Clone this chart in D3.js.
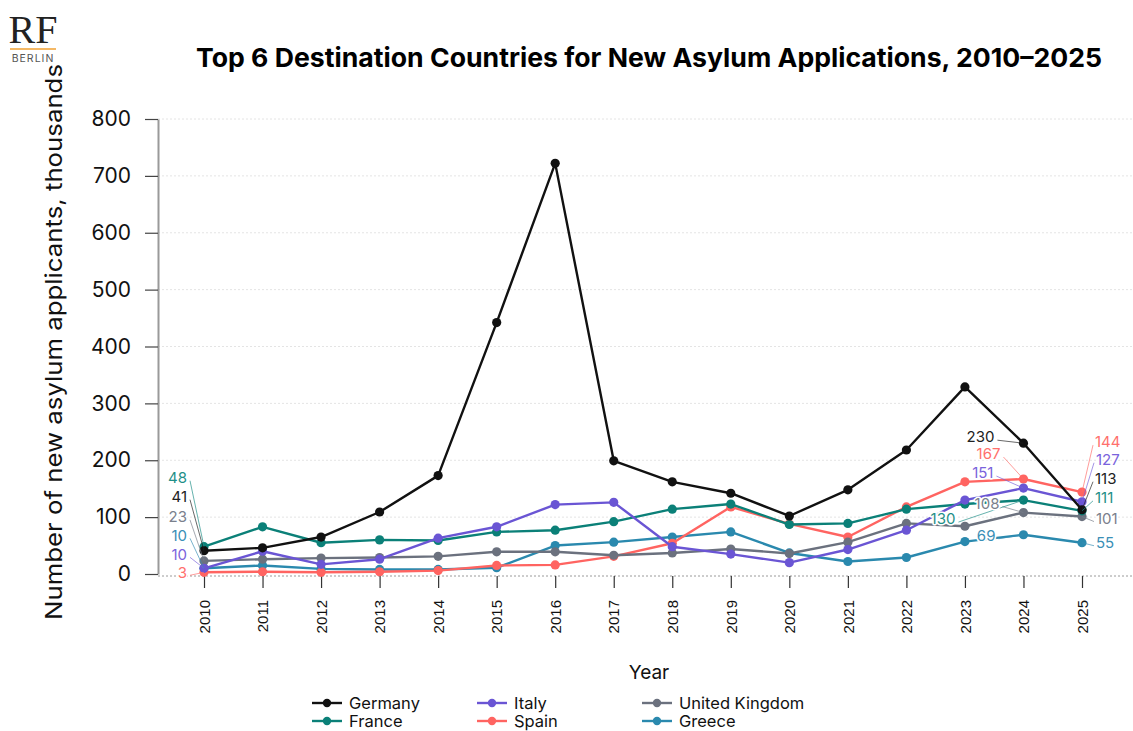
<!DOCTYPE html>
<html>
<head>
<meta charset="utf-8">
<script src="https://cdn.jsdelivr.net/npm/d3@7"></script>
<style>
  html, body { margin: 0; padding: 0; background: #fff; }
  svg { display: block; font-family: Inter, "Open Sans", sans-serif; }
</style>
</head>
<body>
<svg id="chart" width="1133" height="731"></svg>
<script>
// Asylum applications, thousands, by year
const years = [2010, 2011, 2012, 2013, 2014, 2015, 2016, 2017, 2018, 2019, 2020, 2021, 2022, 2023, 2024, 2025];
const countries = ["Germany", "Italy", "United Kingdom", "France", "Spain", "Greece"];
const germany = [41, 46, 65, 109, 173, 442, 722, 199, 162, 142, 102, 148, 218, 329, 230, 113];
const italy   = [10, 40, 17, 26, 63, 83, 122, 126, 48, 35, 20, 43, 77, 130, 151, 127];
const uk      = [23, 26, 28, 29, 31, 39, 39, 33, 37, 44, 36, 56, 89, 84, 108, 101];
const france  = [48, 83, 55, 60, 59, 74, 77, 92, 114, 123, 87, 89, 114, 123, 130, 111];
const spain   = [3, 4, 3, 4, 6, 15, 16, 31, 54, 118, 88, 65, 118, 162, 167, 144];
const greece  = [10, 15, 9, 8, 8, 11, 50, 56, 65, 74, 37, 22, 29, 57, 69, 55];
const yTicks = [0, 100, 200, 300, 400, 500, 600, 700, 800];

const colors = {
  "Germany": "#111111",
  "Italy": "#6a55d4",
  "United Kingdom": "#6b717e",
  "France": "#0b8078",
  "Spain": "#ff6461",
  "Greece": "#2a89ae"
};
const textColors = {
  "Germany": "#222222",
  "Italy": "#7a63dc",
  "United Kingdom": "#7a808c",
  "France": "#1f8f88",
  "Spain": "#ff6f6c",
  "Greece": "#3a8fb6"
};

const seriesValues = [germany, italy, uk, france, spain, greece];
const series = countries.map((c, i) => ({ name: c, values: seriesValues[i] }));

// Which points carry a value label, and the label's offset from its point
// (negative dx: label to the left, right-aligned; positive: to the right)
const labelYears = [2010, 2024, 2025];
const labelOffsets = {
  2010: { "France": [-17, -69], "Germany": [-17, -54], "United Kingdom": [-17, -44], "Greece": [-17, -33], "Italy": [-17, -14], "Spain": [-17, 0] },
  2024: { "Germany": [-29, -6], "Spain": [-23, -25], "Italy": [-30, -15], "United Kingdom": [-24, -9], "France": [-68, 19], "Greece": [-28, 1] },
  2025: { "Spain": [13, -50], "Italy": [14, -42], "Germany": [13, -31], "France": [13, -13], "United Kingdom": [14, 2], "Greece": [14, 0] }
};

const svg = d3.select("#chart");
const W = 1133;
const plotLeft = 158;

const x = d3.scalePoint().domain(years).range([204, 1082]);
const y = d3.scaleLinear().domain([0, 800]).range([574, 119]);

// Horizontal gridlines
svg.append("g")
  .selectAll("line")
  .data(yTicks.slice(1))
  .join("line")
  .attr("x1", plotLeft).attr("x2", W)
  .attr("y1", d => y(d)).attr("y2", d => y(d))
  .attr("stroke", "#e4e4e4")
  .attr("stroke-width", 1)
  .attr("stroke-dasharray", "2,2");

// Baseline
svg.append("line")
  .attr("x1", plotLeft).attr("x2", W)
  .attr("y1", y(0) + 2).attr("y2", y(0) + 2)
  .attr("stroke", "#9a9a9a")
  .attr("stroke-width", 1)
  .attr("stroke-dasharray", "2,2");

// Y axis
const yAxis = svg.append("g")
  .attr("transform", `translate(${plotLeft},0)`)
  .call(d3.axisLeft(y).tickValues(yTicks).tickSize(13).tickPadding(14).tickSizeOuter(0));
yAxis.select(".domain").attr("stroke", "#9a9a9a").attr("stroke-width", 2);
yAxis.selectAll(".tick line").attr("stroke", "#444").attr("stroke-width", 1.2);
yAxis.selectAll(".tick text")
  .style("font-family", "Inter, sans-serif")
  .style("font-size", "21px")
  .attr("fill", "#111");

// X axis
const xAxis = svg.append("g")
  .attr("transform", `translate(0,${y(0) + 2})`)
  .call(d3.axisBottom(x).tickSize(12).tickSizeOuter(0));
xAxis.select(".domain").remove();
xAxis.selectAll(".tick line").attr("stroke", "#333").attr("stroke-width", 1.2);
xAxis.selectAll(".tick text")
  .style("font-family", "'Liberation Sans', Arial, sans-serif")
  .style("font-size", "15px")
  .attr("fill", "#111")
  .attr("text-anchor", "end")
  .attr("dy", "0.35em")
  .attr("transform", "translate(0,24) rotate(-90)")
  .attr("x", 0).attr("y", 0);

// Lines and points
const line = d3.line().x((d, i) => x(years[i])).y(d => y(d));
const drawOrder = ["Greece", "Spain", "United Kingdom", "France", "Italy", "Germany"];
const ordered = drawOrder.map(n => series.find(s => s.name === n));

const gSeries = svg.append("g");
ordered.forEach(s => {
  const g = gSeries.append("g");
  g.append("path")
    .datum(s.values)
    .attr("d", line)
    .attr("fill", "none")
    .attr("stroke", colors[s.name])
    .attr("stroke-width", 2.4)
    .attr("stroke-linejoin", "round");
  g.selectAll("circle")
    .data(s.values)
    .join("circle")
    .attr("cx", (d, i) => x(years[i]))
    .attr("cy", d => y(d))
    .attr("r", 4.6)
    .attr("fill", colors[s.name]);
});

// Value labels with leader lines; text gets a white halo so it reads over lines
const gLabels = svg.append("g");
const gLabelText = svg.append("g");
labelYears.forEach(yr => {
  const idx = years.indexOf(yr);
  series.forEach(s => {
    const v = s.values[idx];
    const px = x(yr), py = y(v);
    const [dx, dy] = labelOffsets[yr][s.name];
    const tx = px + dx, ty = py + dy;
    const left = dx < 0;
    gLabels.append("line")
      .attr("x1", left ? tx + 3 : tx - 2).attr("y1", ty + 3)
      .attr("x2", px).attr("y2", py)
      .attr("stroke", textColors[s.name])
      .attr("stroke-width", 0.8)
      .attr("opacity", 0.85);
    gLabelText.append("text")
      .attr("x", tx)
      .attr("y", ty)
      .attr("dy", "0.35em")
      .attr("text-anchor", left ? "end" : "start")
      .style("font-size", "15px")
      .style("paint-order", "stroke")
      .attr("stroke", "#fff")
      .attr("stroke-width", 3)
      .attr("stroke-linejoin", "round")
      .attr("fill", textColors[s.name])
      .text(v);
  });
});

// Title
svg.append("text")
  .attr("x", 649).attr("y", 67)
  .attr("text-anchor", "middle")
  .style("font-size", "26px")
  .style("font-weight", 700)
  .attr("fill", "#000")
  .attr("textLength", 906)
  .attr("lengthAdjust", "spacingAndGlyphs")
  .text("Top 6 Destination Countries for New Asylum Applications, 2010–2025");

// Axis titles
svg.append("text")
  .attr("transform", "translate(62,342) rotate(-90)")
  .attr("text-anchor", "middle")
  .style("font-size", "23px")
  .attr("fill", "#111")
  .attr("textLength", 556)
  .attr("lengthAdjust", "spacingAndGlyphs")
  .text("Number of new asylum applicants, thousands");

svg.append("text")
  .attr("x", 649).attr("y", 679)
  .attr("text-anchor", "middle")
  .style("font-size", "19px")
  .attr("fill", "#111")
  .text("Year");

// Legend: Germany, Italy, United Kingdom / France, Spain, Greece
const legendCols = [312, 477, 642];
const legend = svg.append("g");
countries.forEach((c, i) => {
  const lx = legendCols[i % 3];
  const ly = i < 3 ? 703 : 721;
  const g = legend.append("g").attr("transform", `translate(${lx},${ly})`);
  g.append("line").attr("x1", 0).attr("x2", 30).attr("y1", 0).attr("y2", 0)
    .attr("stroke", colors[c]).attr("stroke-width", 2.4);
  g.append("circle").attr("cx", 15).attr("cy", 0).attr("r", 4.2).attr("fill", colors[c]);
  g.append("text").attr("x", 37).attr("y", 0).attr("dy", "0.35em")
    .style("font-size", "16.5px").attr("fill", "#111").text(c);
});

// Logo
const logo = svg.append("g");
logo.append("text")
  .attr("x", 33).attr("y", 43)
  .attr("text-anchor", "middle")
  .style("font-family", "'Liberation Serif', 'DejaVu Serif', serif")
  .style("font-size", "40px")
  .attr("fill", "#222")
  .text("RF");
logo.append("line")
  .attr("x1", 10).attr("x2", 56).attr("y1", 49).attr("y2", 49)
  .attr("stroke", "#f0a032").attr("stroke-width", 1.6);
logo.append("text")
  .attr("x", 33).attr("y", 62)
  .attr("text-anchor", "middle")
  .style("font-size", "10.5px")
  .style("letter-spacing", "1px")
  .attr("fill", "#555")
  .text("BERLIN");
</script>
</body>
</html>
